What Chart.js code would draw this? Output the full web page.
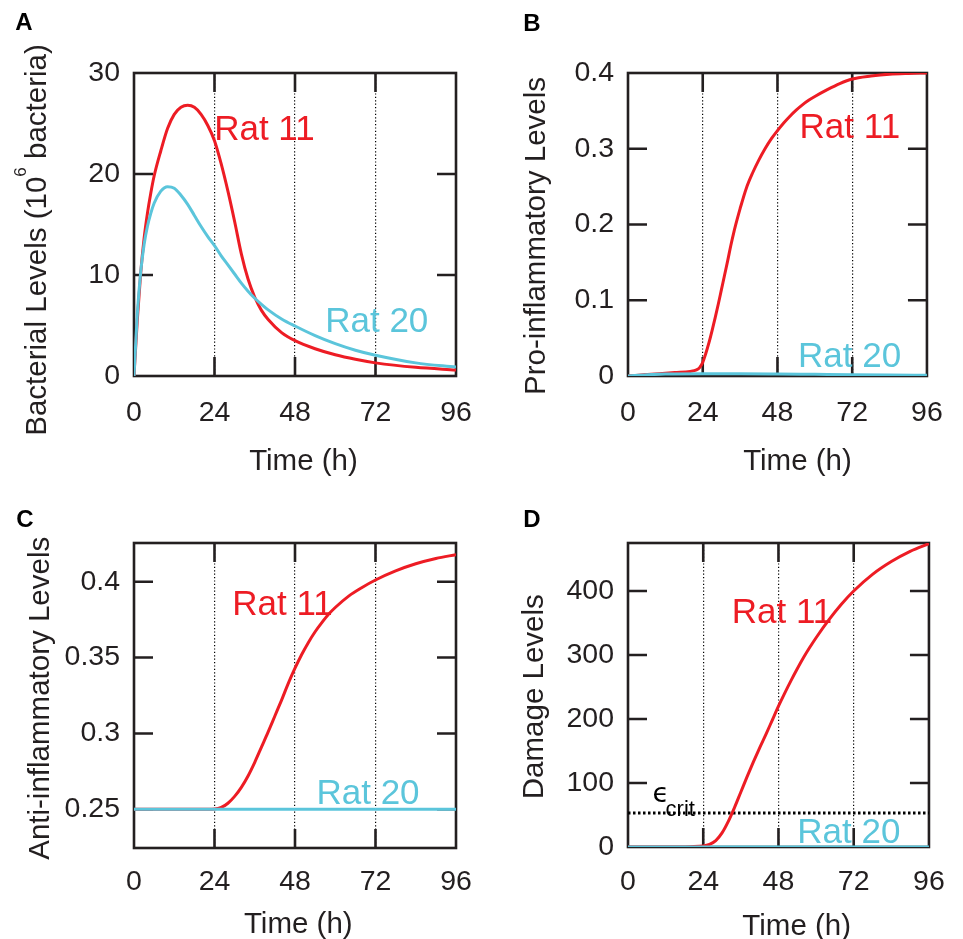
<!DOCTYPE html>
<html>
<head>
<meta charset="utf-8">
<script src="https://cdn.jsdelivr.net/npm/chart.js@4.4.1/dist/chart.umd.min.js"></script>
<style>
  html, body { margin: 0; padding: 0; background: #ffffff; }
  #wrap { position: relative; width: 963px; height: 939px; overflow: hidden; background: #ffffff; }
  #wrap canvas { position: absolute; left: 0; top: 0; }
</style>
</head>
<body>
<div id="wrap">
  <canvas id="cA" width="963" height="939"></canvas>
  <canvas id="cB" width="963" height="939"></canvas>
  <canvas id="cC" width="963" height="939"></canvas>
  <canvas id="cD" width="963" height="939"></canvas>
</div>
<script>
// ---------------- DATA ----------------
// shared x axis (hours)
const xTickValues = [0, 24, 48, 72, 96];
const xTickLabels = ['0', '24', '48', '72', '96'];
const dottedHours = [24, 48, 72];

// Panel A: bacterial levels (10^6 bacteria)
const timeA = [0,1,2,3,4,5,6,8,10,12,14,16,18,20,22,24,26,28,30,32,34,36,38,40,44,48,54,60,66,72,84,96];
const bacteriaRat11 = [0,5.6,10.2,13.6,16.1,18.1,19.8,22.3,24.5,25.9,26.6,26.8,26.6,25.9,24.8,23.3,21.0,18.3,15.3,12.1,9.6,7.8,6.5,5.6,4.3,3.5,2.7,2.1,1.65,1.3,0.86,0.6];
const bacteriaRat20 = [0,6.2,10.3,13.0,14.8,16.1,17.1,18.3,18.75,18.6,17.9,17.0,15.9,14.8,13.8,12.9,11.9,11.0,10.1,9.2,8.4,7.7,7.1,6.55,5.65,4.95,4.0,3.2,2.55,2.05,1.3,0.88];
const yTicksA = [0, 10, 20, 30];
const yLabelsA = ['0', '10', '20', '30'];

// Panel B: pro-inflammatory levels
const timeB11 = [0,5,10,15,20,22,23,24,25,26,27,28,29,30,31,32,33,34,35,36,38,40,42,44,46,48,50,52,54,56,58,60,64,68,72,78,84,90,96];
const proRat11 = [0,0.0015,0.003,0.0045,0.006,0.008,0.011,0.018,0.03,0.044,0.06,0.077,0.095,0.114,0.133,0.152,0.172,0.19,0.206,0.221,0.248,0.268,0.285,0.300,0.313,0.324,0.334,0.343,0.351,0.358,0.364,0.369,0.378,0.386,0.392,0.396,0.3985,0.3995,0.4];
const timeB20 = [0,6,12,24,36,48,60,72,84,96];
const proRat20 = [0,0.0015,0.0025,0.003,0.003,0.0027,0.0022,0.0017,0.0013,0.001];
const yTicksB = [0, 0.1, 0.2, 0.3, 0.4];
const yLabelsB = ['0', '0.1', '0.2', '0.3', '0.4'];

// Panel C: anti-inflammatory levels
const timeC11 = [0,12,20,24,26,28,30,32,34,36,38,40,42,44,46,48,50,52,54,56,58,60,64,68,72,78,84,90,96];
const antiRat11 = [0.25,0.25,0.25,0.2502,0.2512,0.2540,0.2585,0.2645,0.2720,0.2810,0.2910,0.3010,0.3115,0.3220,0.3330,0.3430,0.3520,0.3600,0.3670,0.3730,0.3785,0.3830,0.3905,0.3962,0.4011,0.4071,0.4118,0.4153,0.4178];
const timeC20 = [0,24,48,72,96];
const antiRat20 = [0.25,0.25,0.25,0.25,0.25];
const yTicksC = [0.25, 0.3, 0.35, 0.4];
const yLabelsC = ['0.25', '0.3', '0.35', '0.4'];

// Panel D: damage levels
const timeD11 = [0,12,20,24,26,28,30,32,34,36,38,40,42,44,46,48,50,52,54,56,58,60,64,68,72,78,84,90,96];
const damageRat11 = [0,0,0.5,1.5,4,10,22,40,62,86,110,133,155,176,198,220,240.5,260,278.5,296,312,327,354.5,379,400,426,446,462,474];
const timeD20 = [0,24,48,72,96];
const damageRat20 = [0,0,0,0,0];
const timeCrit = [0, 96];
const epsCrit = [53, 53];
const yTicksD = [0, 100, 200, 300, 400];
const yLabelsD = ['0', '100', '200', '300', '400'];

// ---------------- STYLE ----------------
const W = 963, H = 939;
const INK = '#231f20';
const RED = '#ed1c24';
const CYAN = '#5bc5db';
const FONT = "'Liberation Sans', Arial, Helvetica, sans-serif";
const TICK_FONT = 28.5;
const TITLE_FONT = 29.5;
const NOTE_FONT = 35;
const TICK_LEN = 19;

function pts(xs, ys) { return xs.map((x, i) => ({ x: x, y: ys[i] })); }

function lineSet(xs, ys, color) {
  return { data: pts(xs, ys), borderColor: color, backgroundColor: color, borderWidth: 3,
           pointRadius: 0, cubicInterpolationMode: 'monotone', fill: false };
}

const decorPlugin = {
  id: 'panelDecor',
  beforeDatasetsDraw(chart, args, o) {
    const { ctx, chartArea: a, scales: { x, y } } = chart;
    ctx.save();
    ctx.strokeStyle = INK;
    ctx.lineWidth = 2.6;
    ctx.setLineDash([]);
    ctx.strokeRect(a.left, a.top, a.right - a.left, a.bottom - a.top);
    ctx.beginPath();
    o.yTicks.forEach(v => {
      const py = y.getPixelForValue(v);
      if (py <= a.top + 2 || py >= a.bottom - 2) return;
      ctx.moveTo(a.left, py); ctx.lineTo(a.left + TICK_LEN, py);
      ctx.moveTo(a.right, py); ctx.lineTo(a.right - TICK_LEN, py);
    });
    dottedHours.forEach(v => {
      const px = x.getPixelForValue(v);
      ctx.moveTo(px, a.top); ctx.lineTo(px, a.top + TICK_LEN);
      ctx.moveTo(px, a.bottom); ctx.lineTo(px, a.bottom - TICK_LEN);
    });
    ctx.stroke();
    ctx.restore();
  },
  afterDatasetsDraw(chart, args, o) {
    const { ctx, scales: { x, y } } = chart;
    ctx.save();
    ctx.textBaseline = 'alphabetic';
    // annotations in data coordinates
    o.notes.forEach(n => {
      ctx.font = (n.size || NOTE_FONT) + 'px ' + (n.family || FONT);
      ctx.fillStyle = n.color;
      ctx.textAlign = 'left';
      ctx.fillText(n.text, x.getPixelForValue(n.x), y.getPixelForValue(n.y));
    });
    // panel letter
    ctx.font = 'bold 24px ' + FONT;
    ctx.fillStyle = '#000000';
    ctx.textAlign = 'center';
    ctx.fillText(o.letter.text, o.letter.x, o.letter.y);
    // x title
    ctx.font = TITLE_FONT + 'px ' + FONT;
    ctx.fillStyle = INK;
    ctx.fillText('Time (h)', o.xTitle.x, o.xTitle.y);
    // y title (rotated, may contain superscript)
    ctx.translate(o.yTitle.x, o.yTitle.y);
    ctx.rotate(-Math.PI / 2);
    ctx.textAlign = 'left';
    const segs = o.yTitle.segs;
    let total = 0;
    segs.forEach(s => {
      ctx.font = (s.sup ? 17 : TITLE_FONT) + 'px ' + FONT;
      s.w = ctx.measureText(s.text).width;
      total += s.w;
    });
    let cx = -total / 2;
    segs.forEach(s => {
      ctx.font = (s.sup ? 17 : TITLE_FONT) + 'px ' + FONT;
      ctx.fillText(s.text, cx, s.sup ? -20 : 0);
      cx += s.w;
    });
    ctx.restore();
  }
};

function makePanel(id, cfg) {
  const [L, T, R, B] = cfg.rect;
  const YW = 80, XH = 60;
  return new Chart(document.getElementById(id), {
    type: 'line',
    data: { datasets: cfg.datasets },
    options: {
      responsive: false,
      animation: false,
      devicePixelRatio: 1,
      layout: { padding: { left: L - YW, top: T, right: W - R, bottom: H - B - XH } },
      plugins: {
        legend: { display: false },
        tooltip: { enabled: false },
        panelDecor: cfg.decor
      },
      scales: {
        x: {
          type: 'linear', min: 0, max: 96,
          afterFit: s => { s.height = XH; },
          afterBuildTicks: s => { s.ticks = xTickValues.map(v => ({ value: v })); },
          ticks: {
            autoSkip: false, maxRotation: 0, padding: cfg.xPad, color: INK,
            font: { family: FONT, size: TICK_FONT },
            callback: v => xTickLabels[xTickValues.indexOf(v)]
          },
          grid: {
            display: true, drawTicks: false, lineWidth: 1.2,
            color: c => (c.tick && dottedHours.includes(c.tick.value)) ? '#000000' : 'rgba(0,0,0,0)'
          },
          border: { display: false, dash: [1.2, 2.2] }
        },
        y: {
          type: 'linear', min: cfg.yMin, max: cfg.yMax,
          afterFit: s => { s.width = YW; },
          afterBuildTicks: s => { s.ticks = cfg.yTicks.map(v => ({ value: v })); },
          ticks: {
            autoSkip: false, padding: 14, color: INK,
            font: { family: FONT, size: TICK_FONT },
            callback: v => cfg.yLabels[cfg.yTicks.indexOf(v)]
          },
          grid: { display: false, drawTicks: false },
          border: { display: false }
        }
      }
    },
    plugins: [decorPlugin]
  });
}

// Panel A
makePanel('cA', {
  rect: [134, 73, 456, 376], yMin: 0, yMax: 30, yTicks: yTicksA, yLabels: yLabelsA, xPad: 19.9,
  datasets: [lineSet(timeA, bacteriaRat20, CYAN), lineSet(timeA, bacteriaRat11, RED)],
  decor: {
    yTicks: yTicksA,
    notes: [ { text: 'Rat 11', x: 23.9, y: 23.4, color: RED }, { text: 'Rat 20', x: 57.0, y: 4.36, color: CYAN } ],
    letter: { text: 'A', x: 24, y: 30 },
    xTitle: { x: 303.5, y: 469.5 },
    yTitle: { x: 45.7, y: 240, segs: [ { text: 'Bacterial Levels (10' }, { text: '6', sup: true }, { text: ' bacteria)' } ] }
  }
});

// Panel B
makePanel('cB', {
  rect: [628, 73, 949, 376], yMin: 0, yMax: 0.4, yTicks: yTicksB, yLabels: yLabelsB, xPad: 20.2,
  datasets: [lineSet(timeB20, proRat20, CYAN), lineSet(timeB11, proRat11, RED)],
  decor: {
    yTicks: yTicksB,
    notes: [ { text: 'Rat 11', x: 55.1, y: 0.3142, color: RED }, { text: 'Rat 20', x: 54.6, y: 0.0123, color: CYAN } ],
    letter: { text: 'B', x: 532, y: 30.7 },
    xTitle: { x: 797.5, y: 469.5 },
    yTitle: { x: 544.5, y: 236, segs: [ { text: 'Pro-inflammatory Levels' } ] }
  }
});

// Panel C
makePanel('cC', {
  rect: [134, 543, 456, 848], yMin: 0.2245, yMax: 0.4255, yTicks: yTicksC, yLabels: yLabelsC, xPad: 16.6,
  datasets: [lineSet(timeC20, antiRat20, CYAN), lineSet(timeC11, antiRat11, RED)],
  decor: {
    yTicks: yTicksC,
    notes: [ { text: 'Rat 11', x: 29.3, y: 0.3783, color: RED }, { text: 'Rat 20', x: 54.4, y: 0.2533, color: CYAN } ],
    letter: { text: 'C', x: 25, y: 527.3 },
    xTitle: { x: 298.3, y: 932.8 },
    yTitle: { x: 49.4, y: 698.3, segs: [ { text: 'Anti-inflammatory Levels' } ] }
  }
});

// Panel D
const critSet = { data: pts(timeCrit, epsCrit), borderColor: '#000000', borderWidth: 3, borderDash: [2.5, 2.5],
                  pointRadius: 0, fill: false };
makePanel('cD', {
  rect: [628, 543, 949, 847], yMin: 0, yMax: 475, yTicks: yTicksD, yLabels: yLabelsD, xPad: 18.2,
  datasets: [lineSet(timeD20, damageRat20, CYAN), lineSet(timeD11, damageRat11, RED), critSet],
  decor: {
    yTicks: yTicksD,
    notes: [
      { text: 'Rat 11', x: 33.1, y: 350, color: RED },
      { text: 'Rat 20', x: 54.0, y: 6.2, color: CYAN },
      { text: '\u03F5', x: 7.8, y: 71, color: '#000000', size: 27, family: "'DejaVu Sans', sans-serif" },
      { text: 'crit', x: 12.0, y: 49, color: '#000000', size: 22 }
    ],
    letter: { text: 'D', x: 532, y: 527.3 },
    xTitle: { x: 796.7, y: 934.5 },
    yTitle: { x: 542.7, y: 696.7, segs: [ { text: 'Damage Levels' } ] }
  }
});
</script>
</body>
</html>
